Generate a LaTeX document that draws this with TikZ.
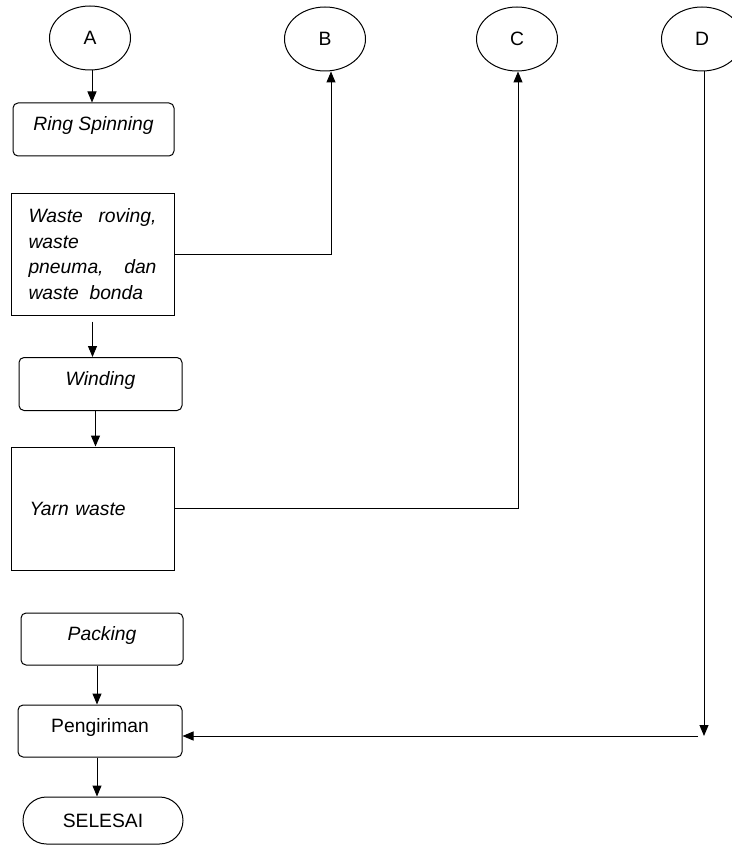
\documentclass[tikz,border=0pt]{standalone}
\usepackage{fontspec}
\setmainfont{Liberation Sans}
\usetikzlibrary{shapes.geometric,shapes.misc,arrows.meta}
\begin{document}
\begin{tikzpicture}[x=1pt,y=-1pt,
  every node/.style={font=\fontsize{19.3}{25.5}\selectfont, line width=1pt, inner sep=0pt},
  circ/.style={draw, ellipse, minimum width=81pt, minimum height=64pt},
  procbox/.style={draw, rounded corners=5pt, minimum height=53pt, text height=14pt, text depth=11pt},
  sqbox/.style={draw, minimum width=163pt, text width=128pt, inner xsep=17.5pt, align=left},
  termbox/.style={draw, rounded rectangle, minimum width=160pt, minimum height=47pt},
  arr/.style={line width=1pt, -{Triangle[length=11pt,width=9pt]}},
  ln/.style={line width=1pt}]
\useasboundingbox (0,0) rectangle (731,845);
\node[circ] (A) at (90,38) {A};
\node[circ] (B) at (325,39) {B};
\node[circ] (C) at (517,39) {C};
\node[circ] (D) at (702,39) {D};
\node[procbox, minimum width=161pt] (ring) at (93.5,129.5) {\itshape Ring Spinning};
\node[sqbox, minimum height=122pt] (waste) at (92.5,254) {\itshape Waste\hfill roving,\\ waste\\ pneuma,\hfill dan\\ waste\hspace{0.55em}bonda};
\node[procbox, minimum width=163pt] (winding) at (100.5,384) {\itshape Winding};
\node[sqbox, minimum height=123pt, text width=126pt, inner xsep=18.5pt] (yarn) at (92.5,508.5) {\itshape Yarn waste};
\node[procbox, minimum width=162pt, minimum height=52pt] (packing) at (102,639) {\itshape Packing};
\node[procbox, minimum width=164pt, minimum height=52pt] (peng) at (100,731) {Pengiriman};
\node[termbox] (selesai) at (103,820.5) {SELESAI};
\coordinate (dend) at (704,736);
\coordinate (hstart) at (698,736);
\draw[arr] ([xshift=2pt]A.south) -- ([xshift=2pt]A.south |- ring.north);
\draw[arr] (waste.east) -| ([xshift=6pt]B.south);
\draw[arr, shorten <=6pt] (waste.south) -- (waste.south |- winding.north);
\draw[arr] ([xshift=-5pt]winding.south) -- ([xshift=-5pt]winding.south |- yarn.north);
\draw[arr] (yarn.east) -| ([xshift=1pt]C.south);
\draw[arr] ([xshift=2pt]D.south) -- (dend);
\draw[arr] (hstart) -- (peng.east |- hstart);
\draw[arr] ([xshift=-5pt]packing.south) -- ([xshift=-5pt]packing.south |- peng.north);
\draw[arr] ([xshift=-3pt]peng.south) -- ([xshift=-3pt]peng.south |- selesai.north);
\end{tikzpicture}
\end{document}
